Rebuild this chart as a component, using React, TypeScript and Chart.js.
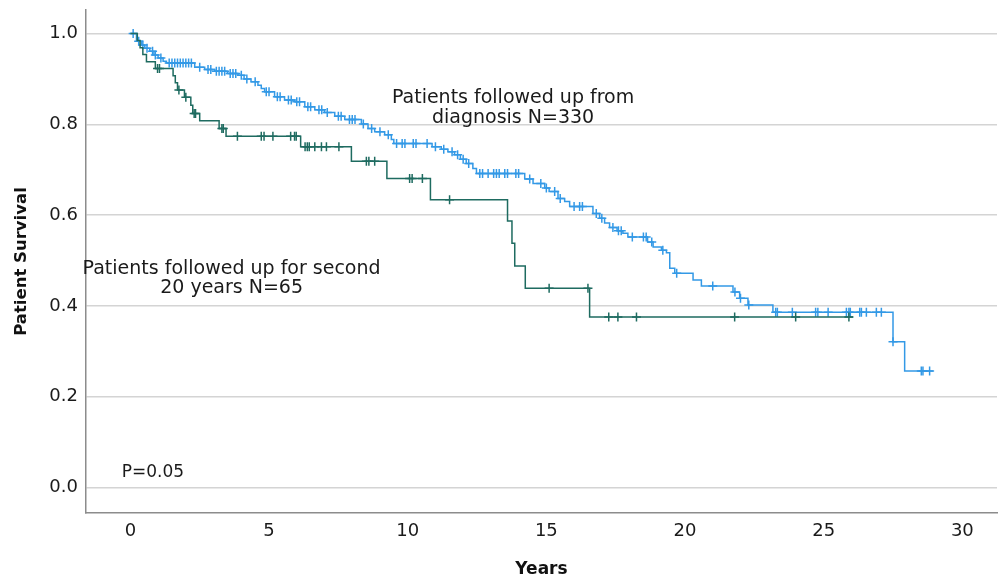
import React, { useEffect, useRef } from "react";
import { Chart, registerables } from "chart.js";

Chart.register(...registerables);

// Axis ticks
const X_TICKS = [0, 5, 10, 15, 20, 25, 30];
const Y_TICKS = [0, 0.2, 0.4, 0.6, 0.8, 1.0];
const X_MIN = -1.6;
const X_MAX = 31.25;
const Y_MIN = -0.056;
const Y_MAX = 1.052;

// Patients followed up from diagnosis (N=330): event times (years) and survival after each event
const DIAG_TIMES = [
  0.22, 0.4, 0.52, 0.7, 0.85, 1.0, 1.18, 1.3, 2.32, 2.68, 3.04, 3.5, 3.88, 4.1, 4.35, 4.6, 4.72, 4.84,
  5.2, 5.56, 5.93, 6.29, 6.65, 7.0, 7.37, 7.73, 8.33, 8.57, 8.81, 9.17, 9.41, 9.5, 10.88, 11.21, 11.45,
  11.69, 11.9, 12.11, 12.35, 12.48, 14.22, 14.52, 14.94, 15.1, 15.42, 15.66, 15.84, 16.68, 16.92, 17.1,
  17.28, 17.55, 17.76, 17.94, 18.65, 18.85, 19.15, 19.33, 19.45, 19.63, 20.29, 20.59, 21.73, 21.97,
  22.27, 23.17, 27.5, 27.92,
];
const DIAG_SURV = [
  0.983, 0.975, 0.968, 0.961, 0.953, 0.946, 0.939, 0.935, 0.926, 0.921, 0.917, 0.912, 0.908, 0.9, 0.894,
  0.886, 0.879, 0.872, 0.861, 0.854, 0.85, 0.839, 0.832, 0.826, 0.818, 0.811, 0.801, 0.791, 0.784, 0.777,
  0.767, 0.758, 0.751, 0.745, 0.74, 0.733, 0.723, 0.714, 0.703, 0.692, 0.68, 0.67, 0.66, 0.652, 0.637,
  0.63, 0.619, 0.604, 0.593, 0.583, 0.573, 0.566, 0.56, 0.552, 0.541, 0.53, 0.523, 0.517, 0.483, 0.472,
  0.457, 0.444, 0.431, 0.417, 0.402, 0.386, 0.321, 0.257,
];
const DIAG_END = 28.94;
const DIAG_CENSOR = [
  0.1, 0.3, 0.45, 0.6, 0.8, 0.9, 1.1, 1.4, 1.5, 1.6, 1.7, 1.8, 1.9, 2.0, 2.1, 2.2, 2.5, 2.8, 2.9, 3.1,
  3.2, 3.3, 3.4, 3.6, 3.7, 3.8, 4.0, 4.2, 4.5, 4.9, 5.0, 5.3, 5.4, 5.7, 5.8, 6.0, 6.1, 6.4, 6.5, 6.8,
  6.9, 7.1, 7.5, 7.6, 7.9, 8.0, 8.1, 8.4, 8.7, 9.0, 9.3, 9.6, 9.8, 9.9, 10.2, 10.3, 10.7, 11.0, 11.3,
  11.6, 11.8, 12.0, 12.2, 12.6, 12.7, 12.9, 13.1, 13.2, 13.3, 13.5, 13.6, 13.9, 14.0, 14.4, 14.8, 15.0,
  15.3, 15.5, 16.0, 16.2, 16.3, 16.8, 17.0, 17.4, 17.6, 17.7, 18.1, 18.5, 18.6, 18.8, 19.2, 19.7, 21.0,
  21.8, 22.0, 22.3, 23.27, 23.33, 23.87, 24.71, 24.79, 25.16, 25.82, 25.91, 25.96, 26.3, 26.36, 26.54,
  26.9, 27.08, 27.5, 28.52, 28.58, 28.82,
];

// Patients followed up for second 20 years (N=65)
const SECOND_TIMES = [
  0.25, 0.35, 0.45, 0.58, 0.9, 1.54, 1.62, 1.7, 1.95, 2.18, 2.25, 2.5, 3.2, 3.45, 6.14, 7.97, 9.25,
  10.82, 13.6, 13.76, 13.86, 14.24, 16.56,
];
const SECOND_SURV = [
  0.985, 0.969, 0.954, 0.938, 0.923, 0.907, 0.892, 0.876, 0.86, 0.842, 0.824, 0.808, 0.791, 0.774,
  0.751, 0.719, 0.681, 0.634, 0.587, 0.538, 0.488, 0.439, 0.376,
];
const SECOND_END = 26.06;
const SECOND_CENSOR = [
  0.98, 1.05, 1.75, 2.0, 2.3, 2.35, 3.3, 3.35, 3.86, 4.72, 4.82, 5.14, 5.78, 5.92, 5.98, 6.3, 6.38,
  6.45, 6.65, 6.89, 7.07, 7.52, 8.51, 8.6, 8.81, 10.07, 10.16, 10.53, 11.51, 15.1, 16.5, 17.25, 17.58,
  18.25, 21.79, 23.99, 25.91,
];

// Annotation texts (positions in data units)
const NOTE_DIAG = ["Patients followed up from", "diagnosis N=330"];
const NOTE_DIAG_X = 13.8;
const NOTE_DIAG_Y = [0.847, 0.803];
const NOTE_SECOND = ["Patients followed up for second", "20 years N=65"];
const NOTE_SECOND_X = 3.65;
const NOTE_SECOND_Y = [0.47, 0.429];
const NOTE_P = "P=0.05";
const NOTE_P_X = -0.31;
const NOTE_P_Y = 0.023;

const BLUE = "#3399e6";
const TEAL = "#1e6b60";
const FONT = '"DejaVu Sans", "Liberation Sans", sans-serif';

function stepPoints(times: number[], surv: number[], end: number) {
  const pts = [{ x: 0, y: 1 }];
  times.forEach((t, i) => pts.push({ x: t, y: surv[i] }));
  pts.push({ x: end, y: surv[surv.length - 1] });
  return pts;
}

function survAt(times: number[], surv: number[], t: number) {
  let s = 1;
  for (let i = 0; i < times.length; i++) {
    if (times[i] <= t) s = surv[i];
    else break;
  }
  return s;
}

function censorPoints(times: number[], surv: number[], censor: number[]) {
  return censor.map((t) => ({ x: t, y: survAt(times, surv, t) }));
}

const notesPlugin = {
  id: "notes",
  afterDatasetsDraw(chart: any) {
    const { ctx, scales } = chart;
    const x = scales.x;
    const y = scales.y;
    ctx.save();
    ctx.fillStyle = "#1a1a1a";
    ctx.textBaseline = "alphabetic";
    ctx.font = `19px ${FONT}`;
    ctx.textAlign = "center";
    NOTE_DIAG.forEach((line, i) =>
      ctx.fillText(line, x.getPixelForValue(NOTE_DIAG_X), y.getPixelForValue(NOTE_DIAG_Y[i]))
    );
    NOTE_SECOND.forEach((line, i) =>
      ctx.fillText(line, x.getPixelForValue(NOTE_SECOND_X), y.getPixelForValue(NOTE_SECOND_Y[i]))
    );
    ctx.font = `17px ${FONT}`;
    ctx.textAlign = "left";
    ctx.fillText(NOTE_P, x.getPixelForValue(NOTE_P_X), y.getPixelForValue(NOTE_P_Y));
    ctx.restore();
  },
};

export default function App() {
  const canvasRef = useRef<HTMLCanvasElement | null>(null);

  useEffect(() => {
    if (!canvasRef.current) return;
    const lineCommon = {
      showLine: true,
      stepped: true,
      pointRadius: 0,
      pointHoverRadius: 0,
      borderWidth: 1.5,
      fill: false,
    };
    const censorCommon = {
      showLine: false,
      pointStyle: "cross",
      pointRadius: 4.5,
      pointHoverRadius: 4.5,
      pointBorderWidth: 1.5,
    };
    const chart = new Chart(canvasRef.current, {
      type: "scatter",
      data: {
        datasets: [
          {
            ...lineCommon,
            label: "Patients followed up from diagnosis",
            data: stepPoints(DIAG_TIMES, DIAG_SURV, DIAG_END),
            borderColor: BLUE,
            backgroundColor: BLUE,
            order: 4,
          },
          {
            ...censorCommon,
            label: "Censored (diagnosis)",
            data: censorPoints(DIAG_TIMES, DIAG_SURV, DIAG_CENSOR),
            borderColor: BLUE,
            backgroundColor: BLUE,
            order: 3,
          },
          {
            ...lineCommon,
            label: "Patients followed up for second 20 years",
            data: stepPoints(SECOND_TIMES, SECOND_SURV, SECOND_END),
            borderColor: TEAL,
            backgroundColor: TEAL,
            order: 2,
          },
          {
            ...censorCommon,
            label: "Censored (second 20 years)",
            data: censorPoints(SECOND_TIMES, SECOND_SURV, SECOND_CENSOR),
            borderColor: TEAL,
            backgroundColor: TEAL,
            order: 1,
          },
        ],
      } as any,
      options: {
        animation: false,
        responsive: false,
        events: [],
        layout: { autoPadding: false, padding: { top: 10, right: 1, left: 0, bottom: 0 } },
        plugins: {
          legend: { display: false },
          tooltip: { enabled: false },
        },
        scales: {
          x: {
            type: "linear",
            min: X_MIN,
            max: X_MAX,
            afterBuildTicks: (scale: any) => {
              scale.ticks = X_TICKS.map((v) => ({ value: v }));
            },
            afterFit: (scale: any) => {
              scale.height = 69;
              scale.paddingLeft = 0;
              scale.paddingRight = 0;
              scale.paddingTop = 0;
              scale.paddingBottom = 0;
            },
            grid: { display: false, drawTicks: false },
            border: { display: true, color: "#8c8c8c", width: 1.5 },
            ticks: {
              padding: 8,
              color: "#1a1a1a",
              font: { family: FONT, size: 18 },
              maxRotation: 0,
              callback: (v: any) => String(v),
            },
            title: {
              display: true,
              text: "Years",
              color: "#111",
              font: { family: FONT, size: 17, weight: "bold" },
              padding: { top: 0, bottom: 2 },
            },
          },
          y: {
            type: "linear",
            min: Y_MIN,
            max: Y_MAX,
            afterBuildTicks: (scale: any) => {
              scale.ticks = Y_TICKS.map((v) => ({ value: v }));
            },
            afterFit: (scale: any) => {
              scale.width = 86;
              scale.paddingLeft = 0;
              scale.paddingRight = 0;
              scale.paddingTop = 0;
              scale.paddingBottom = 0;
            },
            grid: { display: true, color: "#d4d4d4", lineWidth: 1.5, drawTicks: false },
            border: { display: true, color: "#8c8c8c", width: 1.5 },
            ticks: {
              padding: 8,
              color: "#1a1a1a",
              font: { family: FONT, size: 18 },
              callback: (v: any) => Number(v).toFixed(1),
            },
            title: {
              display: true,
              text: "Patient Survival",
              color: "#111",
              font: { family: FONT, size: 16.5, weight: "bold" },
              padding: { top: 12, bottom: 0 },
            },
          },
        },
      } as any,
      plugins: [notesPlugin],
    });
    return () => chart.destroy();
  }, []);

  return (
    <div style={{ position: "fixed", left: 0, top: 0, width: 998, height: 582, background: "#fff" }}>
      <canvas ref={canvasRef} width={998} height={582} style={{ display: "block" }} />
    </div>
  );
}
